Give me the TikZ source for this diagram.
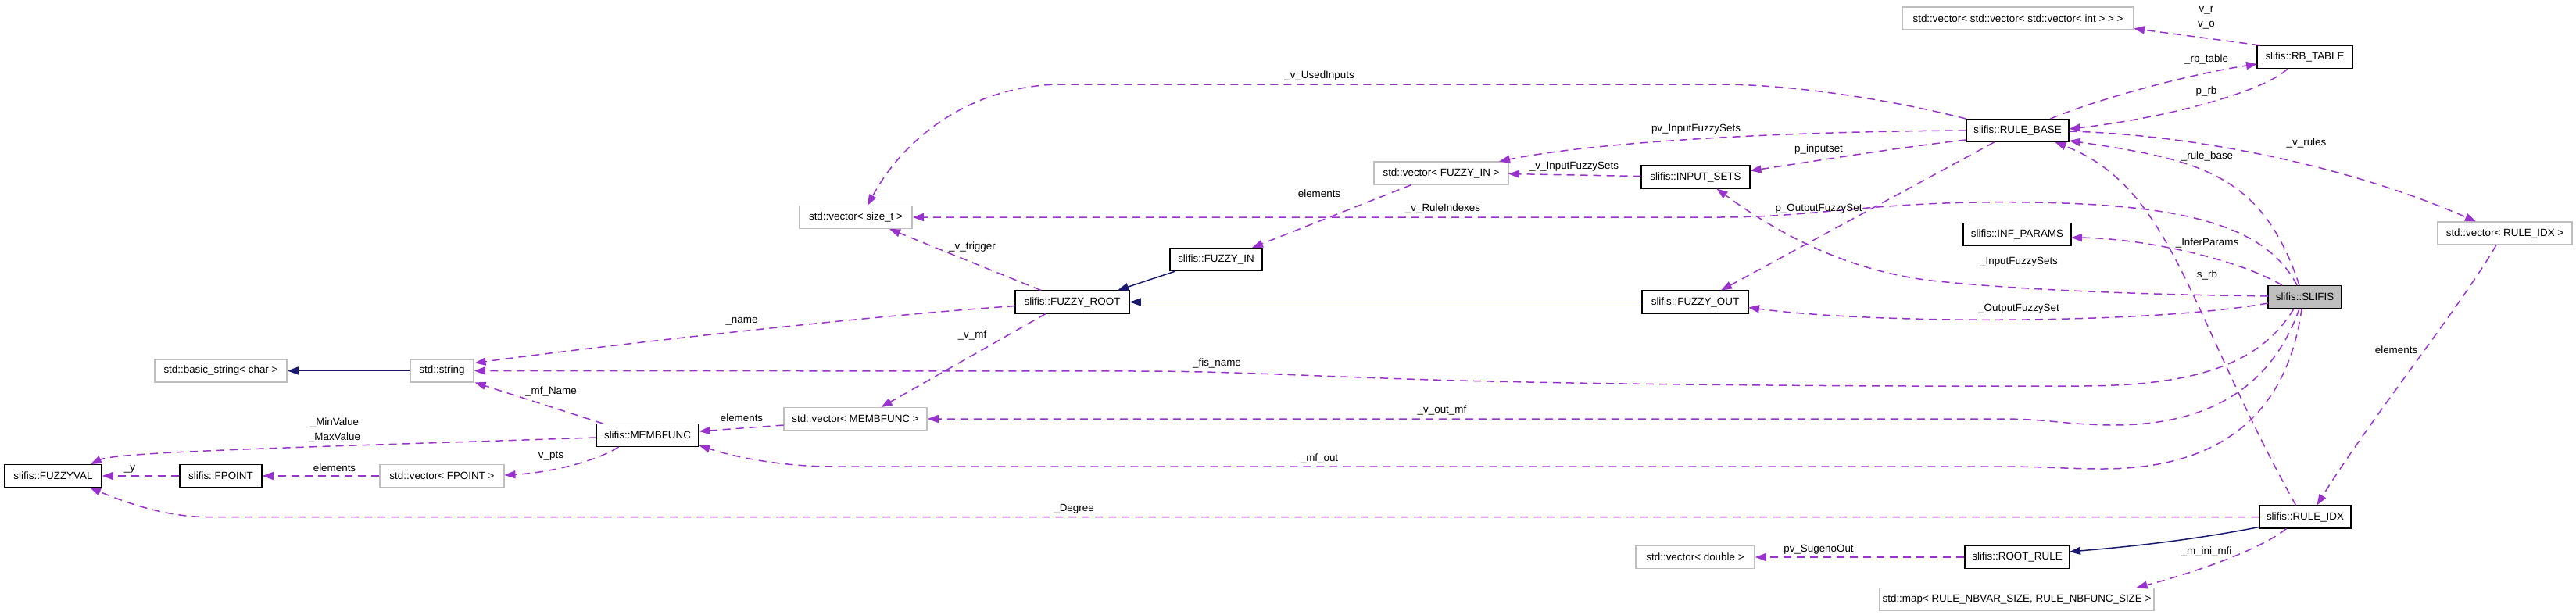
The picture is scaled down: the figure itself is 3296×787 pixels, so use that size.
\documentclass[tikz,border=0pt]{standalone}
\usepackage{fontspec}
\setmainfont{Liberation Sans}
\usetikzlibrary{arrows.meta,calc}
\definecolor{edgepurple}{RGB}{154,50,205}
\definecolor{navyedge}{RGB}{25,25,112}
\definecolor{greybox}{RGB}{191,191,191}
\begin{document}
\begin{tikzpicture}[x=1pt,y=-1pt,
  box/.style={draw=black,fill=white,line width=1.5pt,rectangle,minimum height=29pt,inner sep=0pt,font=\fontsize{13.4}{16}\selectfont},
  extbox/.style={box,draw=greybox},
  mainbox/.style={box,fill=greybox},
  uses/.style={draw=edgepurple,line width=1.5pt,dash pattern=on 10pt off 7pt,-{Triangle[length=14pt,width=10pt]}},
  inherits/.style={draw=navyedge,line width=1.5pt,-{Triangle[length=14pt,width=10pt]}},
  lbl/.style={font=\fontsize{13.4}{16}\selectfont,inner sep=0pt,text=black}
]
\fill[white] (0,0) rectangle (3296,787);
\useasboundingbox (0,0) rectangle (3296,787);

\node[extbox,minimum width=296pt] (vec3) at (2582,23.5) {std::vector< std::vector< std::vector< int > > >};
\node[box,minimum width=122pt] (rbtable) at (2949,73) {slifis::RB\_TABLE};
\node[box,minimum width=131pt] (rulebase) at (2581.5,167) {slifis::RULE\_BASE};
\node[extbox,minimum width=144pt] (vecsize) at (1095,278) {std::vector< size\_t >};
\node[extbox,minimum width=172pt] (vecfin) at (1844,221.5) {std::vector< FUZZY\_IN >};
\node[box,minimum width=139pt] (inputsets) at (2169.5,226.5) {slifis::INPUT\_SETS};
\node[box,minimum width=138pt] (infparams) at (2581,300) {slifis::INF\_PARAMS};
\node[extbox,minimum width=172pt] (vecrule) at (3205,298.5) {std::vector< RULE\_IDX >};
\node[box,minimum width=118pt] (fuzzyin) at (1556,332) {slifis::FUZZY\_IN};
\node[box,minimum width=146pt] (fuzzyroot) at (1372,386.5) {slifis::FUZZY\_ROOT};
\node[box,minimum width=136pt] (fuzzyout) at (2169,386.5) {slifis::FUZZY\_OUT};
\node[mainbox,minimum width=94pt] (slifis) at (2949,380) {slifis::SLIFIS};
\node[extbox,minimum width=169pt] (basicstr) at (282.5,474.5) {std::basic\_string< char >};
\node[extbox,minimum width=81pt] (string) at (565.5,474.5) {std::string};
\node[extbox,minimum width=183pt] (vecmf) at (1094.5,536) {std::vector< MEMBFUNC >};
\node[box,minimum width=131pt] (membfunc) at (828.5,557) {slifis::MEMBFUNC};
\node[box,minimum width=124pt] (fuzzyval) at (68,609) {slifis::FUZZYVAL};
\node[box,minimum width=105pt] (fpoint) at (282.5,609) {slifis::FPOINT};
\node[extbox,minimum width=159pt] (vecfpoint) at (565.5,609) {std::vector< FPOINT >};
\node[box,minimum width=117pt] (ruleidx) at (2949.5,661.5) {slifis::RULE\_IDX};
\node[extbox,minimum width=152pt] (vecdouble) at (2169,713) {std::vector< double >};
\node[box,minimum width=134pt] (rootrule) at (2581,713) {slifis::ROOT\_RULE};
\node[extbox,minimum width=351pt] (map) at (2580.5,767) {std::map< RULE\_NBVAR\_SIZE, RULE\_NBFUNC\_SIZE >};

% uses (dashed purple)
\draw[uses] ($(rbtable)+(-57,-15)$) -- ($(vec3)+(148,13)$) node[lbl] at (2823,13) {v\_r} node[lbl] at (2823,32) {v\_o};
\draw[uses] ($(rulebase)+(42,-15)$) .. controls (2680,128) and (2800,95) .. ($(rbtable)+(-61,9)$) node[lbl] at (2823,76) {\_rb\_table};
\draw[uses] ($(rbtable)+(-22,15)$) .. controls (2900,115) and (2780,150) .. ($(rulebase)+(66,-2)$) node[lbl] at (2823,117) {p\_rb};
\draw[uses] ($(rulebase)+(66,1)$) .. controls (2800,172) and (3000,210) .. ($(vecrule)+(-37,-15)$) node[lbl] at (2951,183) {\_v\_rules};
\draw[uses] ($(vecrule)+(-11,15)$) .. controls (3150,390) and (3030,540) .. ($(ruleidx)+(15,-15)$) node[lbl] at (3066,448) {elements};
\draw[uses] ($(slifis)+(-7,-15)$) .. controls (2895,225) and (2820,205) .. ($(rulebase)+(66,13)$) node[lbl] at (2824,200) {\_rule\_base};
\draw[uses] ($(ruleidx)+(-12,-15)$) .. controls (2800,400) and (2780,240) .. ($(rulebase)+(48,15)$) node[lbl] at (2824,352) {s\_rb};
\draw[uses] ($(slifis)+(-29,-15)$) .. controls (2860,330) and (2740,305) .. ($(infparams)+(69,4)$) node[lbl] at (2824,311) {\_InferParams};
\draw[uses] ($(slifis)+(-10,-15)$) .. controls (2900,290) and (2800,262) .. (2600,259) .. controls (2400,256) and (2330,278) .. (2200,278) -- (vecsize.east) node[lbl] at (1846,267) {\_v\_RuleIndexes};
\draw[uses] ($(slifis)+(-47,-1)$) .. controls (2750,377) and (2600,372) .. (2480,360) .. controls (2380,350) and (2290,310) .. ($(inputsets)+(27,15)$) node[lbl] at (2583,335) {\_InputFuzzySets};
\draw[uses] ($(slifis)+(-47,8)$) .. controls (2750,415) and (2400,415) .. ($(fuzzyout)+(68,7)$) node[lbl] at (2583,395) {\_OutputFuzzySet};
\draw[uses] ($(slifis)+(-7,15)$) .. controls (2905,500) and (2820,545) .. (2700,544) .. controls (2640,543) and (2620,536) .. (2560,536) -- (vecmf.east) node[lbl] at (1845,525) {\_v\_out\_mf};
\draw[uses] ($(slifis)+(-4,15)$) .. controls (2925,540) and (2830,600) .. (2690,600) .. controls (2640,600) and (2620,597) .. (2560,597) -- (1066,597) .. controls (1000,597) and (940,585) .. ($(membfunc)+(66,13)$) node[lbl] at (1688,587) {\_mf\_out};
\draw[uses] ($(slifis)+(-14,15)$) .. controls (2890,470) and (2800,495) .. (2650,494) .. controls (2400,495) and (2000,492) .. (1800,485) .. controls (1650,480) and (1560,475) .. (1460,475) -- (string.east) node[lbl] at (1557,465) {\_fis\_name};
\draw[uses] ($(fuzzyroot)+(-73,5)$) .. controls (1100,405) and (750,445) .. ($(string)+(42,-10)$) node[lbl] at (949,411) {\_name};
\draw[uses] ($(fuzzyroot)+(-34,15)$) -- ($(vecmf)+(33,-15)$) node[lbl] at (1244,429) {\_v\_mf};
\draw[uses] ($(fuzzyroot)+(-40,-15)$) -- ($(vecsize)+(43,15)$) node[lbl] at (1244,316) {\_v\_trigger};
\draw[uses] ($(rulebase)+(-66,-15)$) .. controls (2430,130) and (2300,108) .. (2200,108) -- (1360,108) .. controls (1250,108) and (1160,170) .. ($(vecsize)+(15,-15)$) node[lbl] at (1688,97) {\_v\_UsedInputs};
\draw[uses] ($(rulebase)+(-66,0)$) .. controls (2300,168) and (2050,180) .. ($(vecfin)+(74,-15)$) node[lbl] at (2170,165) {pv\_InputFuzzySets};
\draw[uses] ($(rulebase)+(-66,12)$) .. controls (2420,190) and (2330,205) .. ($(inputsets)+(70,-8)$) node[lbl] at (2327,191) {p\_inputset};
\draw[uses] ($(rulebase)+(-30,15)$) -- ($(fuzzyout)+(33,-15)$) node[lbl] at (2327,267) {p\_OutputFuzzySet};
\draw[uses] ($(inputsets)+(-70,-1)$) -- ($(vecfin)+(86,1)$) node[lbl] at (2014,213) {\_v\_InputFuzzySets};
\draw[uses] ($(vecfin)+(-38,15)$) -- ($(fuzzyin)+(46,-15)$) node[lbl] at (1688,248) {elements};
\draw[uses] ($(membfunc)+(-66,3)$) .. controls (400,572) and (150,578) .. ($(fuzzyval)+(48,-15)$) node[lbl] at (428,541) {\_MinValue} node[lbl] at (428,560) {\_MaxValue};
\draw[uses] ($(membfunc)+(-57,-15)$) -- ($(string)+(42,15)$) node[lbl] at (705,501) {\_mf\_Name};
\draw[uses] ($(membfunc)+(-37,15)$) .. controls (760,592) and (700,605) .. ($(vecfpoint)+(80,-1)$) node[lbl] at (705,584) {v\_pts};
\draw[uses] (vecfpoint.west) -- (fpoint.east) node[lbl] at (428,599) {elements};
\draw[uses] (fpoint.west) -- (fuzzyval.east) node[lbl] at (166,600) {\_y};
\draw[uses] ($(vecmf)+(-92,8)$) -- ($(membfunc)+(66,-5)$) node[lbl] at (949,535) {elements};
\draw[uses] (ruleidx.west) -- (265,661.5) .. controls (215,661.5) and (165,645) .. ($(fuzzyval)+(47,15)$) node[lbl] at (1374,651) {\_Degree};
\draw[uses] ($(ruleidx)+(-24,15)$) .. controls (2890,705) and (2800,735) .. ($(map)+(153,-15)$) node[lbl] at (2823,706) {\_m\_ini\_mfi};
\draw[uses] (rootrule.west) -- (vecdouble.east) node[lbl] at (2327,703) {pv\_SugenoOut};

% inheritance (solid navy)
\draw[inherits] (string.west) -- (basicstr.east);
\draw[inherits] ($(fuzzyin)+(-52,15)$) -- ($(fuzzyroot)+(58,-15)$);
\draw[inherits] (fuzzyout.west) -- (fuzzyroot.east);
\draw[inherits] ($(ruleidx)+(-59,13)$) .. controls (2800,692) and (2720,700) .. ($(rootrule)+(67,-7)$);
\end{tikzpicture}
\end{document}
